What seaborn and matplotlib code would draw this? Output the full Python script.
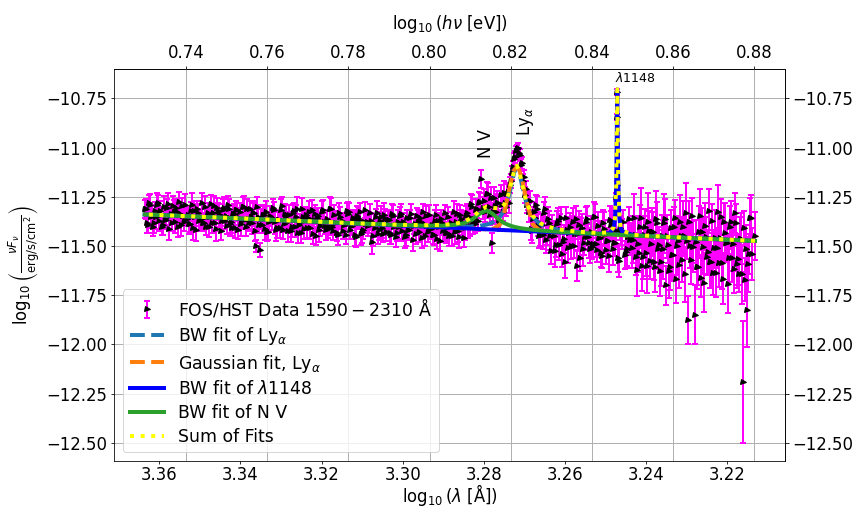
import matplotlib
matplotlib.use("Agg")
import matplotlib.pyplot as plt
import pandas as pd
import seaborn as sns

# ---------------- data: FOS/HST spectrum (log10 wavelength, log10 nuFnu, error) ----------------
log_lam_a = [
    3.3636, 3.3631, 3.3626, 3.3621, 3.3616, 3.3611, 3.3606, 3.3601, 3.3596, 3.3591,
    3.3586, 3.3581, 3.3576, 3.3571, 3.3566, 3.3561, 3.3556, 3.3551, 3.3546, 3.3541,
    3.3536, 3.3531, 3.3526, 3.3521, 3.3516, 3.3511, 3.3506, 3.3501, 3.3496, 3.3491,
    3.3486, 3.3481, 3.3476, 3.3471, 3.3466, 3.3461, 3.3456, 3.3451, 3.3446, 3.3441,
    3.3436, 3.3431, 3.3426, 3.3421, 3.3416, 3.3411, 3.3406, 3.3401, 3.3396, 3.3391,
    3.3386, 3.3381, 3.3376, 3.3371, 3.3366, 3.3361, 3.3356, 3.3351, 3.3346, 3.3341,
    3.3336, 3.3331, 3.3326, 3.3321, 3.3316, 3.3311, 3.3306, 3.3301, 3.3296, 3.3291,
    3.3286, 3.3281, 3.3276, 3.3271, 3.3266, 3.3261, 3.3256, 3.3251, 3.3246, 3.3241,
    3.3236, 3.3231, 3.3226, 3.3221, 3.3216, 3.3211, 3.3206, 3.3201, 3.3196, 3.3191,
    3.3186, 3.3181, 3.3176, 3.3171, 3.3166, 3.3161, 3.3156, 3.3151, 3.3146, 3.3141,
    3.3136, 3.3131, 3.3126, 3.3121, 3.3116, 3.3111, 3.3106, 3.3101, 3.3096, 3.3091,
    3.3086, 3.3081, 3.3076, 3.3071, 3.3066, 3.3061, 3.3056, 3.3051, 3.3046, 3.3041,
    3.3036, 3.3031, 3.3026, 3.3021, 3.3016, 3.3011, 3.3006, 3.3001, 3.2996, 3.2991,
    3.2986, 3.2981, 3.2976, 3.2971, 3.2966, 3.2961, 3.2956, 3.2951, 3.2946, 3.2941,
    3.2936, 3.2931, 3.2926, 3.2921, 3.2916, 3.2911, 3.2906, 3.2901, 3.2896, 3.2891,
    3.2886, 3.2881, 3.2876, 3.2871, 3.2866, 3.2861, 3.2856, 3.2851, 3.2846, 3.2841,
    3.2836, 3.2831, 3.2826, 3.2821, 3.2816, 3.2811, 3.2806, 3.2801, 3.2796, 3.2791,
    3.2786, 3.2781, 3.2776, 3.2771, 3.2766, 3.2761, 3.2756, 3.2751, 3.2746, 3.2741,
    3.2736, 3.2731, 3.2726, 3.2721, 3.2716, 3.2711, 3.2706, 3.2701, 3.2696, 3.2691,
    3.2686, 3.2681, 3.2676, 3.2671, 3.2666, 3.2661, 3.2656, 3.2651, 3.2646, 3.2641,
    3.2636, 3.2631, 3.2626, 3.2621, 3.2616, 3.2611, 3.2606, 3.2601, 3.2596, 3.2591,
    3.2586, 3.2581, 3.2576, 3.2571, 3.2566, 3.2561, 3.2556, 3.2551, 3.2546, 3.2541,
    3.2536, 3.2531, 3.2526, 3.2521, 3.2516, 3.2511, 3.2506, 3.2501, 3.2496, 3.2491,
    3.2486, 3.2481, 3.2476, 3.2471, 3.2466, 3.2461, 3.2456, 3.2451, 3.2446, 3.2441,
    3.2436, 3.2431, 3.2426, 3.2421, 3.2416, 3.2411, 3.2406, 3.2401, 3.2396, 3.2391,
    3.2386, 3.2381, 3.2376, 3.2371, 3.2366, 3.2361, 3.2356, 3.2351, 3.2346, 3.2341,
    3.2336, 3.2331, 3.2326, 3.2321, 3.2316, 3.2311, 3.2306, 3.2301, 3.2296, 3.2291,
    3.2286, 3.2281, 3.2276, 3.2271, 3.2266, 3.2261, 3.2256, 3.2251, 3.2246, 3.2241,
    3.2236, 3.2231, 3.2226, 3.2221, 3.2216, 3.2211, 3.2206, 3.2201, 3.2196, 3.2191,
    3.2186, 3.2181, 3.2176, 3.2171, 3.2166, 3.2161, 3.2156, 3.2151, 3.2146, 3.2141,
    3.2133, 3.24715, 3.2473, 3.2474,
]
log_flux_a = [
    -11.312, -11.382, -11.282, -11.352, -11.402, -11.322, -11.292, -11.372, -11.342, -11.392,
    -11.366, -11.306, -11.416, -11.336, -11.296, -11.376, -11.326, -11.276, -11.396, -11.346,
    -11.291, -11.361, -11.391, -11.321, -11.411, -11.351, -11.311, -11.371, -11.281, -11.381,
    -11.405, -11.335, -11.355, -11.385, -11.295, -11.415, -11.325, -11.345, -11.375, -11.305,
    -11.350, -11.290, -11.390, -11.410, -11.340, -11.320, -11.420, -11.330, -11.370, -11.300,
    -11.404, -11.364, -11.314, -11.384, -11.334, -11.500, -11.354, -11.520, -11.394, -11.344,
    -11.329, -11.429, -11.349, -11.309, -11.379, -11.409, -11.369, -11.319, -11.419, -11.339,
    -11.373, -11.343, -11.423, -11.333, -11.403, -11.313, -11.393, -11.433, -11.353, -11.363,
    -11.408, -11.328, -11.368, -11.438, -11.338, -11.358, -11.418, -11.378, -11.318, -11.398,
    -11.362, -11.402, -11.312, -11.422, -11.382, -11.432, -11.332, -11.372, -11.392, -11.442,
    -11.337, -11.417, -11.397, -11.367, -11.457, -11.357, -11.327, -11.427, -11.377, -11.387,
    -11.401, -11.331, -11.480, -11.391, -11.351, -11.441, -11.371, -11.411, -11.341, -11.431,
    -11.366, -11.436, -11.336, -11.406, -11.456, -11.376, -11.346, -11.426, -11.396, -11.446,
    -11.420, -11.360, -11.470, -11.390, -11.350, -11.430, -11.380, -11.330, -11.450, -11.400,
    -11.345, -11.415, -11.445, -11.375, -11.465, -11.405, -11.365, -11.425, -11.335, -11.435,
    -11.452, -11.381, -11.400, -11.429, -11.337, -11.455, -11.363, -11.381, -11.408, -11.335,
    -11.354, -11.287, -11.379, -11.390, -11.310, -11.280, -11.160, -11.272, -11.306, -11.234,
    -11.343, -11.485, -11.257, -11.329, -11.280, -11.376, -11.290, -11.232, -11.300, -11.225,
    -11.190, -11.130, -11.060, -11.020, -11.000, -11.040, -11.080, -11.150, -11.210, -11.270,
    -11.270, -11.425, -11.330, -11.290, -11.390, -11.437, -11.394, -11.335, -11.468, -11.364,
    -11.450, -11.405, -11.525, -11.390, -11.495, -11.360, -11.480, -11.580, -11.420, -11.435,
    -11.500, -11.380, -11.440, -11.600, -11.395, -11.425, -11.515, -11.455, -11.365, -11.485,
    -11.430, -11.490, -11.355, -11.520, -11.460, -11.535, -11.385, -11.445, -11.475, -11.550,
    -11.395, -11.515, -11.485, -10.843, -11.575, -11.425, -11.380, -11.530, -11.455, -11.470,
    -11.512, -11.358, -11.556, -11.490, -11.402, -11.600, -11.446, -11.534, -11.380, -11.578,
    -11.429, -11.583, -11.363, -11.517, -11.627, -11.451, -11.385, -11.700, -11.495, -11.605,
    -11.548, -11.404, -11.668, -11.476, -11.380, -11.572, -11.452, -11.332, -11.876, -11.500,
    -11.349, -11.850, -11.609, -11.427, -11.661, -11.505, -11.401, -11.557, -11.323, -11.583,
    -11.640, -11.458, -11.510, -11.588, -11.354, -11.666, -11.432, -11.484, -11.562, -11.380,
    -11.489, -11.333, -11.593, -11.645, -11.463, -12.190, -11.671, -11.826, -11.541, -11.359,
    -11.450, -10.716, -11.190, -11.250,
]
flux_err_a = [
    0.045, 0.050, 0.040, 0.055, 0.050, 0.045, 0.060, 0.050, 0.040, 0.050,
    0.050, 0.045, 0.055, 0.040, 0.050, 0.060, 0.045, 0.050, 0.055, 0.040,
    0.055, 0.040, 0.050, 0.045, 0.060, 0.050, 0.040, 0.055, 0.050, 0.045,
    0.040, 0.055, 0.045, 0.050, 0.050, 0.060, 0.045, 0.040, 0.050, 0.055,
    0.050, 0.045, 0.060, 0.040, 0.055, 0.050, 0.045, 0.050, 0.040, 0.055,
    0.045, 0.050, 0.040, 0.055, 0.050, 0.030, 0.060, 0.035, 0.040, 0.050,
    0.055, 0.040, 0.050, 0.045, 0.060, 0.050, 0.040, 0.055, 0.045, 0.050,
    0.040, 0.050, 0.055, 0.045, 0.050, 0.060, 0.040, 0.050, 0.045, 0.055,
    0.050, 0.055, 0.040, 0.050, 0.045, 0.050, 0.060, 0.045, 0.050, 0.040,
    0.045, 0.040, 0.055, 0.050, 0.060, 0.045, 0.050, 0.040, 0.055, 0.050,
    0.060, 0.050, 0.045, 0.040, 0.050, 0.055, 0.045, 0.060, 0.050, 0.040,
    0.050, 0.045, 0.060, 0.055, 0.040, 0.050, 0.045, 0.050, 0.060, 0.045,
    0.045, 0.055, 0.050, 0.040, 0.050, 0.060, 0.045, 0.050, 0.040, 0.055,
    0.050, 0.040, 0.055, 0.050, 0.045, 0.050, 0.060, 0.045, 0.050, 0.040,
    0.055, 0.050, 0.045, 0.060, 0.050, 0.040, 0.050, 0.055, 0.045, 0.050,
    0.050, 0.055, 0.045, 0.060, 0.050, 0.055, 0.045, 0.050, 0.060, 0.050,
    0.055, 0.050, 0.060, 0.045, 0.050, 0.055, 0.045, 0.060, 0.050, 0.055,
    0.050, 0.050, 0.055, 0.060, 0.045, 0.050, 0.055, 0.060, 0.050, 0.045,
    0.040, 0.035, 0.030, 0.030, 0.025, 0.030, 0.030, 0.035, 0.040, 0.045,
    0.050, 0.060, 0.055, 0.050, 0.060, 0.065, 0.055, 0.060, 0.070, 0.060,
    0.070, 0.060, 0.080, 0.065, 0.075, 0.060, 0.070, 0.085, 0.065, 0.070,
    0.065, 0.075, 0.060, 0.080, 0.070, 0.065, 0.085, 0.060, 0.070, 0.075,
    0.080, 0.065, 0.070, 0.060, 0.085, 0.070, 0.065, 0.075, 0.060, 0.080,
    0.070, 0.080, 0.065, 0.015, 0.085, 0.070, 0.065, 0.080, 0.070, 0.075,
    0.100, 0.120, 0.090, 0.140, 0.110, 0.130, 0.100, 0.120, 0.150, 0.090,
    0.120, 0.090, 0.140, 0.100, 0.130, 0.110, 0.150, 0.100, 0.090, 0.120,
    0.130, 0.100, 0.120, 0.090, 0.140, 0.110, 0.100, 0.150, 0.120, 0.110,
    0.090, 0.150, 0.110, 0.130, 0.100, 0.140, 0.120, 0.090, 0.110, 0.130,
    0.110, 0.140, 0.100, 0.120, 0.090, 0.130, 0.150, 0.100, 0.120, 0.110,
    0.140, 0.100, 0.120, 0.090, 0.130, 0.310, 0.110, 0.190, 0.100, 0.120,
    0.120, 0.015, 0.020, 0.020,
]

log_lam_b = [
    3.36335, 3.36285, 3.36235, 3.36185, 3.36135, 3.36085, 3.36035, 3.35985, 3.35935, 3.35885,
    3.35835, 3.35785, 3.35735, 3.35685, 3.35635, 3.35585, 3.35535, 3.35485, 3.35435, 3.35385,
    3.35335, 3.35285, 3.35235, 3.35185, 3.35135, 3.35085, 3.35035, 3.34985, 3.34935, 3.34885,
    3.34835, 3.34785, 3.34735, 3.34685, 3.34635, 3.34585, 3.34535, 3.34485, 3.34435, 3.34385,
    3.34335, 3.34285, 3.34235, 3.34185, 3.34135, 3.34085, 3.34035, 3.33985, 3.33935, 3.33885,
    3.33835, 3.33785, 3.33735, 3.33685, 3.33635, 3.33585, 3.33535, 3.33485, 3.33435, 3.33385,
    3.33335, 3.33285, 3.33235, 3.33185, 3.33135, 3.33085, 3.33035, 3.32985, 3.32935, 3.32885,
    3.32835, 3.32785, 3.32735, 3.32685, 3.32635, 3.32585, 3.32535, 3.32485, 3.32435, 3.32385,
    3.32335, 3.32285, 3.32235, 3.32185, 3.32135, 3.32085, 3.32035, 3.31985, 3.31935, 3.31885,
    3.31835, 3.31785, 3.31735, 3.31685, 3.31635, 3.31585, 3.31535, 3.31485, 3.31435, 3.31385,
    3.31335, 3.31285, 3.31235, 3.31185, 3.31135, 3.31085, 3.31035, 3.30985, 3.30935, 3.30885,
    3.30835, 3.30785, 3.30735, 3.30685, 3.30635, 3.30585, 3.30535, 3.30485, 3.30435, 3.30385,
    3.30335, 3.30285, 3.30235, 3.30185, 3.30135, 3.30085, 3.30035, 3.29985, 3.29935, 3.29885,
    3.29835, 3.29785, 3.29735, 3.29685, 3.29635, 3.29585, 3.29535, 3.29485, 3.29435, 3.29385,
    3.29335, 3.29285, 3.29235, 3.29185, 3.29135, 3.29085, 3.29035, 3.28985, 3.28935, 3.28885,
    3.28835, 3.28785, 3.28735, 3.28685, 3.28635, 3.28585, 3.28535, 3.28485, 3.28435, 3.28385,
    3.28335, 3.28285, 3.28235, 3.28185, 3.28135, 3.28085, 3.28035, 3.27985, 3.27935, 3.27885,
    3.27835, 3.27785, 3.27735, 3.27685, 3.27635, 3.27585, 3.27535, 3.27485, 3.27435, 3.27385,
    3.27335, 3.27285, 3.27235, 3.27185, 3.27135, 3.27085, 3.27035, 3.26985, 3.26935, 3.26885,
    3.26835, 3.26785, 3.26735, 3.26685, 3.26635, 3.26585, 3.26535, 3.26485, 3.26435, 3.26385,
    3.26335, 3.26285, 3.26235, 3.26185, 3.26135, 3.26085, 3.26035, 3.25985, 3.25935, 3.25885,
    3.25835, 3.25785, 3.25735, 3.25685, 3.25635, 3.25585, 3.25535, 3.25485, 3.25435, 3.25385,
    3.25335, 3.25285, 3.25235, 3.25185, 3.25135, 3.25085, 3.25035, 3.24985, 3.24935, 3.24885,
    3.24835, 3.24785, 3.24735, 3.24685, 3.24635, 3.24585, 3.24535, 3.24485, 3.24435, 3.24385,
    3.24335, 3.24285, 3.24235, 3.24185, 3.24135, 3.24085, 3.24035, 3.23985, 3.23935, 3.23885,
    3.23835, 3.23785, 3.23735, 3.23685, 3.23635, 3.23585, 3.23535, 3.23485, 3.23435, 3.23385,
    3.23335, 3.23285, 3.23235, 3.23185, 3.23135, 3.23085, 3.23035, 3.22985, 3.22935, 3.22885,
    3.22835, 3.22785, 3.22735, 3.22685, 3.22635, 3.22585, 3.22535, 3.22485, 3.22435, 3.22385,
    3.22335, 3.22285, 3.22235, 3.22185, 3.22135, 3.22085, 3.22035, 3.21985, 3.21935, 3.21885,
    3.21835, 3.21785, 3.21735, 3.21685, 3.21635, 3.21585, 3.21535, 3.21485, 3.21435, 3.21385,
]
log_flux_b = [
    -11.312, -11.392, -11.292, -11.342, -11.382, -11.352, -11.282, -11.322, -11.402, -11.302,
    -11.366, -11.286, -11.346, -11.386, -11.326, -11.306, -11.406, -11.336, -11.296, -11.376,
    -11.351, -11.341, -11.391, -11.291, -11.321, -11.421, -11.331, -11.361, -11.381, -11.301,
    -11.355, -11.405, -11.285, -11.335, -11.385, -11.305, -11.345, -11.425, -11.315, -11.375,
    -11.400, -11.310, -11.380, -11.340, -11.410, -11.320, -11.360, -11.390, -11.300, -11.370,
    -11.314, -11.384, -11.354, -11.334, -11.424, -11.304, -11.394, -11.364, -11.344, -11.414,
    -11.429, -11.379, -11.359, -11.319, -11.419, -11.369, -11.409, -11.299, -11.389, -11.349,
    -11.423, -11.373, -11.403, -11.323, -11.353, -11.433, -11.383, -11.313, -11.413, -11.343,
    -11.358, -11.408, -11.318, -11.368, -11.448, -11.348, -11.398, -11.328, -11.378, -11.418,
    -11.412, -11.312, -11.402, -11.342, -11.382, -11.442, -11.352, -11.422, -11.392, -11.322,
    -11.327, -11.397, -11.357, -11.447, -11.347, -11.367, -11.437, -11.417, -11.317, -11.377,
    -11.381, -11.371, -11.451, -11.411, -11.331, -11.421, -11.351, -11.441, -11.361, -11.391,
    -11.366, -11.446, -11.346, -11.396, -11.436, -11.406, -11.336, -11.376, -11.456, -11.356,
    -11.420, -11.340, -11.400, -11.440, -11.380, -11.360, -11.460, -11.390, -11.350, -11.430,
    -11.405, -11.395, -11.445, -11.345, -11.375, -11.475, -11.385, -11.415, -11.435, -11.355,
    -11.402, -11.451, -11.330, -11.378, -11.426, -11.344, -11.382, -11.460, -11.347, -11.404,
    -11.400, -11.303, -11.364, -11.315, -11.375, -11.275, -11.306, -11.329, -11.235, -11.304,
    -11.254, -11.326, -11.298, -11.280, -11.368, -11.243, -11.326, -11.281, -11.238, -11.282,
    -11.170, -11.100, -11.050, -11.010, -11.030, -11.090, -11.170, -11.240, -11.290, -11.330,
    -11.415, -11.362, -11.356, -11.311, -11.449, -11.391, -11.447, -11.311, -11.429, -11.382,
    -11.525, -11.450, -11.495, -11.375, -11.420, -11.540, -11.465, -11.360, -11.510, -11.405,
    -11.425, -11.500, -11.365, -11.440, -11.560, -11.410, -11.485, -11.380, -11.455, -11.515,
    -11.505, -11.355, -11.490, -11.400, -11.460, -11.550, -11.415, -11.520, -11.475, -11.370,
    -11.380, -11.485, -11.425, -11.560, -11.410, -11.440, -11.545, -11.515, -11.365, -11.455,
    -11.468, -11.446, -11.622, -11.534, -11.358, -11.556, -11.402, -11.600, -11.424, -11.490,
    -11.429, -11.605, -11.385, -11.495, -11.583, -11.517, -11.363, -11.451, -11.627, -11.407,
    -11.548, -11.356, -11.500, -11.596, -11.452, -11.404, -11.644, -11.476, -11.380, -11.572,
    -11.505, -11.479, -11.609, -11.349, -11.427, -11.687, -11.453, -11.531, -11.583, -11.375,
    -11.510, -11.640, -11.328, -11.458, -11.588, -11.380, -11.484, -11.692, -11.406, -11.562,
    -11.619, -11.385, -11.567, -11.463, -11.645, -11.411, -11.515, -11.593, -11.359, -11.541,
]
flux_err_b = [
    0.050, 0.040, 0.055, 0.045, 0.050, 0.060, 0.040, 0.050, 0.045, 0.055,
    0.045, 0.055, 0.050, 0.040, 0.060, 0.045, 0.050, 0.055, 0.040, 0.050,
    0.050, 0.045, 0.040, 0.060, 0.050, 0.055, 0.045, 0.050, 0.040, 0.055,
    0.055, 0.050, 0.045, 0.050, 0.040, 0.050, 0.060, 0.045, 0.055, 0.040,
    0.040, 0.050, 0.055, 0.045, 0.050, 0.040, 0.055, 0.060, 0.050, 0.045,
    0.050, 0.040, 0.045, 0.060, 0.050, 0.055, 0.040, 0.050, 0.045, 0.055,
    0.045, 0.050, 0.060, 0.040, 0.055, 0.045, 0.050, 0.050, 0.040, 0.055,
    0.055, 0.045, 0.050, 0.040, 0.060, 0.050, 0.045, 0.055, 0.050, 0.040,
    0.040, 0.055, 0.050, 0.060, 0.045, 0.040, 0.050, 0.055, 0.045, 0.050,
    0.050, 0.060, 0.045, 0.050, 0.040, 0.055, 0.050, 0.045, 0.060, 0.040,
    0.045, 0.050, 0.040, 0.055, 0.050, 0.045, 0.060, 0.050, 0.040, 0.055,
    0.055, 0.040, 0.050, 0.045, 0.060, 0.050, 0.055, 0.040, 0.050, 0.045,
    0.050, 0.045, 0.055, 0.050, 0.040, 0.060, 0.050, 0.045, 0.055, 0.040,
    0.045, 0.055, 0.040, 0.050, 0.060, 0.045, 0.050, 0.040, 0.055, 0.050,
    0.060, 0.045, 0.050, 0.055, 0.040, 0.050, 0.045, 0.060, 0.050, 0.055,
    0.055, 0.050, 0.060, 0.045, 0.055, 0.050, 0.060, 0.045, 0.050, 0.055,
    0.050, 0.060, 0.045, 0.055, 0.050, 0.045, 0.055, 0.050, 0.060, 0.050,
    0.055, 0.045, 0.050, 0.060, 0.050, 0.055, 0.045, 0.050, 0.055, 0.050,
    0.035, 0.030, 0.030, 0.025, 0.030, 0.030, 0.035, 0.040, 0.045, 0.050,
    0.055, 0.060, 0.050, 0.065, 0.060, 0.055, 0.070, 0.060, 0.065, 0.060,
    0.065, 0.075, 0.060, 0.070, 0.080, 0.065, 0.070, 0.060, 0.075, 0.070,
    0.075, 0.060, 0.070, 0.085, 0.065, 0.070, 0.060, 0.080, 0.065, 0.070,
    0.060, 0.080, 0.065, 0.070, 0.075, 0.060, 0.085, 0.070, 0.065, 0.075,
    0.075, 0.065, 0.080, 0.070, 0.060, 0.075, 0.070, 0.085, 0.065, 0.070,
    0.120, 0.090, 0.130, 0.100, 0.150, 0.110, 0.090, 0.140, 0.100, 0.120,
    0.100, 0.130, 0.110, 0.090, 0.120, 0.150, 0.100, 0.110, 0.140, 0.090,
    0.110, 0.090, 0.150, 0.120, 0.100, 0.130, 0.140, 0.090, 0.110, 0.120,
    0.130, 0.110, 0.090, 0.140, 0.120, 0.150, 0.100, 0.110, 0.130, 0.090,
    0.090, 0.120, 0.140, 0.110, 0.130, 0.100, 0.090, 0.150, 0.110, 0.120,
    0.120, 0.100, 0.130, 0.110, 0.150, 0.090, 0.120, 0.140, 0.100, 0.130,
]

# ---------------- fitted models (sampled) ----------------
fit_log_lam = [3.3636, 3.31, 3.30, 3.295, 3.29, 3.287, 3.285, 3.283, 3.281, 3.2794,
               3.278, 3.276, 3.275, 3.274, 3.273, 3.2725, 3.2719, 3.2713, 3.2705, 3.2695,
               3.268, 3.266, 3.264, 3.261, 3.257, 3.252, 3.249, 3.248, 3.2477, 3.2474,
               3.2473, 3.24714, 3.2470, 3.2469, 3.2466, 3.2463, 3.246, 3.243, 3.235, 3.225,
               3.2132]
fit_bw_nv = [-11.3399, -11.3869, -11.3946, -11.3972, -11.3971, -11.3927, -11.3847, -11.3670, -11.3352, -11.3189,
             -11.3344, -11.3706, -11.3836, -11.3932, -11.4002, -11.4030, -11.4058, -11.4085, -11.4113, -11.4143,
             -11.4179, -11.4217, -11.4249, -11.4288, -11.4334, -11.4387, -11.4416, -11.4426, -11.4428, -11.4431,
             -11.4432, -11.4434, -11.4435, -11.4436, -11.4439, -11.4442, -11.4444, -11.4473, -11.4547, -11.4639,
             -11.4746]
fit_bw_lya = [-11.3399, -11.3871, -11.3953, -11.3988, -11.4017, -11.4026, -11.4024, -11.4011, -11.3978, -11.3920,
              -11.3826, -11.3518, -11.3187, -11.2606, -11.1700, -11.1246, -11.1000, -11.1257, -11.2022, -11.2858,
              -11.3535, -11.3912, -11.4080, -11.4204, -11.4293, -11.4365, -11.4401, -11.4412, -11.4416, -11.4419,
              -11.4420, -11.4421, -11.4422, -11.4423, -11.4427, -11.4430, -11.4433, -11.4464, -11.4543, -11.4637,
              -11.4744]
fit_gauss_lya = [-11.3401, -11.3881, -11.3971, -11.4015, -11.4060, -11.4087, -11.4105, -11.4123, -11.4141, -11.4155,
                 -11.4158, -11.3908, -11.3329, -11.2367, -11.1428, -11.1129, -11.1000, -11.1140, -11.1699, -11.2721,
                 -11.3896, -11.4261, -11.4293, -11.4320, -11.4356, -11.4401, -11.4428, -11.4437, -11.4439, -11.4442,
                 -11.4443, -11.4444, -11.4445, -11.4446, -11.4449, -11.4452, -11.4454, -11.4481, -11.4553, -11.4643,
                 -11.4748]
fit_bw_1148 = [-11.3401, -11.3881, -11.3971, -11.4015, -11.4060, -11.4087, -11.4105, -11.4123, -11.4141, -11.4155,
               -11.4168, -11.4186, -11.4195, -11.4204, -11.4213, -11.4217, -11.4222, -11.4228, -11.4235, -11.4244,
               -11.4257, -11.4275, -11.4293, -11.4320, -11.4356, -11.4389, -11.4348, -11.4079, -11.3658, -11.1911,
               -11.0260, -10.7040, -10.9811, -11.1659, -11.3614, -11.4078, -11.4245, -11.4465, -11.4551, -11.4643,
               -11.4748]
fit_sum = [-11.3398, -11.3860, -11.3928, -11.3945, -11.3929, -11.3868, -11.3770, -11.3569, -11.3216, -11.3000,
           -11.3059, -11.3103, -11.2901, -11.2416, -11.1581, -11.1150, -11.0921, -11.1184, -11.1948, -11.2784,
           -11.3468, -11.3859, -11.4038, -11.4174, -11.4272, -11.4339, -11.4309, -11.4048, -11.3629, -11.1891,
           -11.0247, -10.7034, -10.9799, -11.1641, -11.3587, -11.4047, -11.4215, -11.4440, -11.4535, -11.4633,
           -11.4741]

top_ticks = [0.74, 0.76, 0.78, 0.80, 0.82, 0.84, 0.86, 0.88]
LOG_HC = 4.0934  # log10(hc / eV Angstrom): log10(h nu) = LOG_HC - log10(lambda)

# ---------------- figure ----------------
DPI = 72
plt.rcParams['font.size'] = 16.5
fig = plt.figure(figsize=(858 / DPI, 507 / DPI), dpi=DPI)
ax = fig.add_axes([0.1332, 0.0907, 0.7817, 0.7732])

spec = pd.DataFrame({'loglam': log_lam_a + log_lam_b,
                     'logflux': log_flux_a + log_flux_b,
                     'err': flux_err_a + flux_err_b})

eb = ax.errorbar(spec['loglam'], spec['logflux'], yerr=spec['err'], fmt='>', color='black', ms=5,
                 ecolor='magenta', elinewidth=2, capsize=3.3, capthick=2,
                 label=r'FOS/HST Data $1590-2310$ Å', zorder=2)

fits = pd.DataFrame({'loglam': fit_log_lam, 'bw_lya': fit_bw_lya, 'gauss_lya': fit_gauss_lya,
                     'bw_1148': fit_bw_1148, 'bw_nv': fit_bw_nv, 'sum': fit_sum})
sns.lineplot(data=fits, x='loglam', y='bw_lya', ax=ax, color='#1f77b4', lw=4, linestyle='--',
             label=r'BW fit of Ly$_\alpha$', zorder=3)
sns.lineplot(data=fits, x='loglam', y='gauss_lya', ax=ax, color='#ff7f0e', lw=4, linestyle='--',
             label=r'Gaussian fit, Ly$_\alpha$', zorder=3)
sns.lineplot(data=fits, x='loglam', y='bw_1148', ax=ax, color='blue', lw=4, linestyle='-',
             label=r'BW fit of $\lambda$1148', zorder=3)
sns.lineplot(data=fits, x='loglam', y='bw_nv', ax=ax, color='#2ca02c', lw=4, linestyle='-',
             label='BW fit of N V', zorder=3)
sns.lineplot(data=fits, x='loglam', y='sum', ax=ax, color='yellow', lw=4, linestyle=':',
             label='Sum of Fits', zorder=4)

ax.set_xlim(3.3711, 3.2058)
ax.set_ylim(-12.593, -10.601)
ax.tick_params(axis='x', which='major', length=3, pad=1.5)
ax.set_xlabel(r'$\log_{10}(\lambda$ [Å]$)$', labelpad=-1.5)
ax.set_ylabel(r'$\log_{10}\left(\frac{\nu F_\nu}{\mathrm{erg/s/cm^2}}\right)$')

# annotations
ax.text(3.27937, -10.981, 'N V', rotation=90, ha='center', va='center', fontsize=16.5)
ax.text(3.26967, -10.869, r'Ly$_\alpha$', rotation=90, ha='center', va='center', fontsize=16.5)
ax.text(3.24253, -10.647, r'$\lambda1148$', ha='center', va='center', fontsize=12.5)

# secondary axes
secx = ax.secondary_xaxis('top', functions=(lambda v: LOG_HC - v, lambda v: LOG_HC - v))
secx.set_xticks(top_ticks)
secx.set_xlabel(r'$\log_{10}(h\nu$ [eV]$)$', labelpad=15)
secy = ax.secondary_yaxis('right')

# grid: horizontal at y ticks, vertical at the top-axis ticks
ax.set_xticks([LOG_HC - t for t in top_ticks], minor=True)
ax.tick_params(axis='x', which='minor', length=0)
ax.xaxis.grid(True, which='minor', color='#b0b0b0', lw=1)
ax.xaxis.grid(False, which='major')
ax.yaxis.grid(True, which='major', color='#b0b0b0', lw=1)
ax.set_axisbelow(True)

handles, labels = ax.get_legend_handles_labels()
order = sorted(range(len(labels)), key=lambda i: 0 if labels[i].startswith('FOS') else 1)
ax.legend([handles[i] for i in order], [labels[i] for i in order], loc='lower left',
          fontsize=17.2, labelspacing=0.33)

fig.savefig('out.png', dpi=DPI)
